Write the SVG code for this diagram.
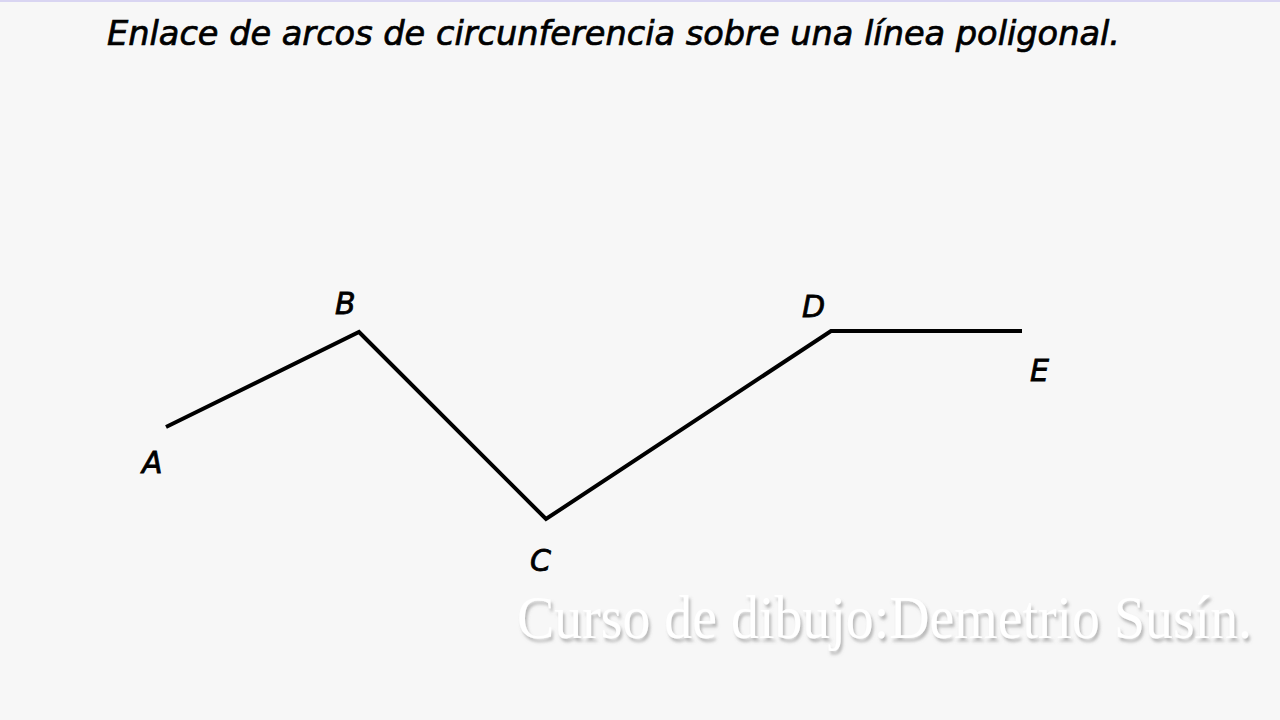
<svg xmlns="http://www.w3.org/2000/svg" width="1280" height="720" viewBox="0 0 1280 720">
<defs>
<style>
.title{font-family:"DejaVu Sans","Open Sans",sans-serif;font-style:italic;font-size:33px;fill:#000;stroke:#000;stroke-width:0.7}
.lbl{font-family:"DejaVu Sans","Open Sans",sans-serif;font-style:italic;font-size:30px;fill:#000;stroke:#000;stroke-width:0.8}
.seg{stroke:#000;stroke-width:4;fill:none;stroke-linejoin:miter;stroke-linecap:butt}
.wm{font-family:"Liberation Serif",serif;font-size:53px;fill:#ffffff}
</style>
<filter id="sh" x="-5%" y="-30%" width="110%" height="160%">
<feDropShadow dx="2" dy="3" stdDeviation="1.5" flood-color="#777" flood-opacity="0.5"/>
</filter>
</defs>
<rect width="1280" height="720" fill="#f7f7f7"/>
<rect width="1280" height="2" fill="#d9d5f2"/>
<text class="title" x="107" y="45" textLength="1013" lengthAdjust="spacingAndGlyphs">Enlace de arcos de circunferencia sobre una línea poligonal.</text>
<g id="connectors">
<polyline class="seg" points="166,427 359,332 546,519 831,331 1022,331"/>
</g>
<g id="A"><text class="lbl" x="142" y="473">A</text></g>
<g id="B"><text class="lbl" x="335" y="314">B</text></g>
<g id="C"><text class="lbl" x="530" y="571">C</text></g>
<g id="D"><text class="lbl" x="802" y="317">D</text></g>
<g id="E"><text class="lbl" x="1030" y="381">E</text></g>
<g transform="translate(517,638) scale(1,1.17)" filter="url(#sh)">
<text class="wm" x="0" y="0" textLength="735" lengthAdjust="spacingAndGlyphs">Curso de dibujo:Demetrio Susín.</text>
</g>
</svg>
